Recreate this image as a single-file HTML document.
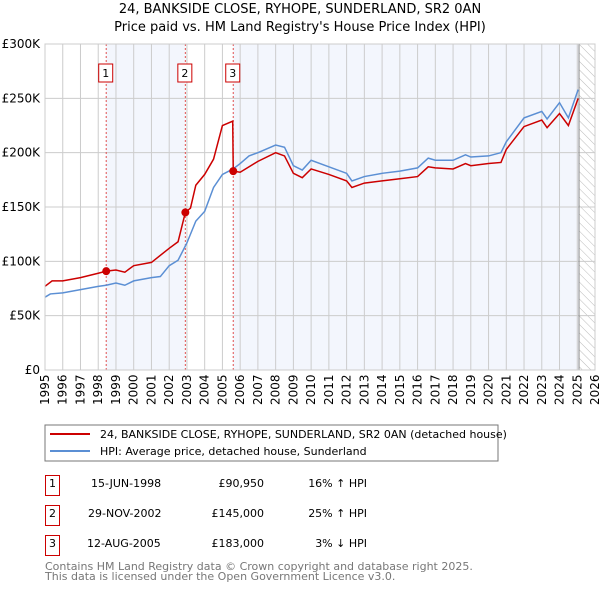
<!DOCTYPE html>
<html><head><meta charset="utf-8"><style>
body{margin:0;background:#fff;font-family:"DejaVu Sans","Liberation Sans",sans-serif;}
svg text{font-family:"DejaVu Sans","Liberation Sans",sans-serif;}
</style></head><body>
<svg id="chart" width="600" height="590" xmlns="http://www.w3.org/2000/svg">
<defs><pattern id="hatch" width="6" height="6" patternUnits="userSpaceOnUse" patternTransform="rotate(-45)"><line x1="0" y1="0" x2="0" y2="6" stroke="#bbb" stroke-width="1"/></pattern></defs>
<text x="300" y="13" text-anchor="middle" font-size="13">24, BANKSIDE CLOSE, RYHOPE, SUNDERLAND, SR2 0AN</text>
<text x="300" y="31" text-anchor="middle" font-size="13">Price paid vs. HM Land Registry's House Price Index (HPI)</text>
<g id="plot"></g>
<rect x="45" y="425" width="453" height="36" fill="#fff" stroke="#777"/>
<line x1="50" y1="434" x2="90" y2="434" stroke="#cc0000" stroke-width="2"/>
<text x="100" y="438" font-size="11">24, BANKSIDE CLOSE, RYHOPE, SUNDERLAND, SR2 0AN (detached house)</text>
<line x1="50" y1="451" x2="90" y2="451" stroke="#5b8fd4" stroke-width="2"/>
<text x="100" y="455" font-size="11">HPI: Average price, detached house, Sunderland</text>
<g font-size="11">
<rect x="45.5" y="475.5" width="14" height="20" fill="none" stroke="#cc0000"/><text x="52.5" y="487" text-anchor="middle">1</text>
<text x="91" y="487">15-JUN-1998</text><text x="264" y="487" text-anchor="end">£90,950</text><text x="367" y="487" text-anchor="end">16% ↑ HPI</text>
<rect x="45.5" y="505.5" width="14" height="20" fill="none" stroke="#cc0000"/><text x="52.5" y="517" text-anchor="middle">2</text>
<text x="88" y="517">29-NOV-2002</text><text x="264" y="517" text-anchor="end">£145,000</text><text x="367" y="517" text-anchor="end">25% ↑ HPI</text>
<rect x="45.5" y="535.5" width="14" height="20" fill="none" stroke="#cc0000"/><text x="52.5" y="547" text-anchor="middle">3</text>
<text x="87" y="547">12-AUG-2005</text><text x="264" y="547" text-anchor="end">£183,000</text><text x="367" y="547" text-anchor="end">3% ↓ HPI</text>
</g>
<text x="45" y="570" font-size="11" fill="#777">Contains HM Land Registry data © Crown copyright and database right 2025.</text>
<text x="45" y="580" font-size="11" fill="#777">This data is licensed under the Open Government Licence v3.0.</text>
</svg>
<script>
const yTicks=[0,50000,100000,150000,200000,250000,300000];
const yTickLabels=["£0","£50K","£100K","£150K","£200K","£250K","£300K"];
const xYears=[1995,1996,1997,1998,1999,2000,2001,2002,2003,2004,2005,2006,2007,2008,2009,2010,2011,2012,2013,2014,2015,2016,2017,2018,2019,2020,2021,2022,2023,2024,2025,2026];
const saleDates=[1998.45,2002.91,2005.61];
const salePrices=[90950,145000,183000];
const saleLabels=["1","2","3"];
const hpiDates=[1995,1995.3,1996,1997,1998,1998.45,1999,1999.5,2000,2001,2001.5,2002,2002.5,2003,2003.5,2004,2004.5,2005,2005.6,2006,2006.5,2007,2008,2008.5,2009,2009.5,2010,2011,2012,2012.3,2013,2014,2015,2016,2016.6,2017,2018,2018.7,2019,2020,2020.7,2021,2022,2023,2023.3,2024,2024.5,2025.05];
const hpiValues=[67000,70000,71000,74000,77000,78000,80000,78000,82000,85000,86000,96000,101000,117000,137000,146000,168000,180000,185000,190000,197000,200000,207000,205000,188000,184000,193000,187000,181000,174000,178000,181000,183000,186000,195000,193000,193000,198000,196000,197000,200000,210000,232000,238000,231000,246000,232000,258000];
const propDates=[1995,1995.4,1996,1997,1998,1998.45,1999,1999.5,2000,2001,2002,2002.5,2002.91,2003.2,2003.5,2004,2004.5,2005,2005.58,2005.61,2006,2007,2008,2008.5,2009,2009.5,2010,2011,2012,2012.3,2013,2014,2015,2016,2016.6,2017,2018,2018.7,2019,2020,2020.7,2021,2022,2023,2023.3,2024,2024.5,2025.05];
const propValues=[77000,82000,82000,85000,89000,90950,92000,90000,96000,99000,112000,118000,145000,149000,170000,180000,194000,225000,229000,183000,182000,192000,200000,197000,181000,177000,185000,180000,174000,168000,172000,174000,176000,178000,187000,186000,185000,190000,188000,190000,191000,203000,224000,230000,223000,236000,225000,250000];
const X0=45,X1=595,Y0=370,Y1=44;
const xs=v=>X0+(v-1995)/(2026-1995)*(X1-X0);
const ys=v=>Y0-v/300000*(Y0-Y1);
const NS="http://www.w3.org/2000/svg";
const g=document.getElementById('plot');
function mk(t,a){const e=document.createElementNS(NS,t);for(const k in a)e.setAttribute(k,a[k]);g.appendChild(e);return e;}
let e;
e=mk('rect',{x:xs(saleDates[0]),y:Y1,width:xs(saleDates[1])-xs(saleDates[0]),height:Y0-Y1,fill:'#f3f6fd'});


e=mk('rect',{x:xs(saleDates[2]),y:Y1,width:xs(2025.1)-xs(saleDates[2]),height:Y0-Y1,fill:'#f3f6fd'});


e=mk('rect',{x:xs(2025.1),y:Y1,width:X1-xs(2025.1),height:Y0-Y1,fill:'url(#hatch)'});


xYears.forEach(y=>{e=mk('line',{x1:xs(y),x2:xs(y),y1:Y1,y2:Y0,stroke:'#ccc','stroke-width':1});


e=mk('text',{transform:`translate(${xs(y)+4},405) rotate(-90)`,'font-size':12});e.textContent=y;

});
yTicks.forEach((v,i)=>{e=mk('line',{x1:X0,x2:X1,y1:ys(v),y2:ys(v),stroke:'#ccc','stroke-width':1});


e=mk('text',{x:40,y:ys(v)+4,'text-anchor':'end','font-size':12});e.textContent=yTickLabels[i];

});
e=mk('line',{x1:xs(2025.1),x2:xs(2025.1),y1:Y1,y2:Y0,stroke:'#888','stroke-width':1});


saleDates.forEach((d,i)=>{e=mk('line',{x1:xs(d),x2:xs(d),y1:Y1,y2:Y0,stroke:'#e05050','stroke-width':1,'stroke-dasharray':'2,2'});


e=mk('rect',{x:xs(d)-7.5,y:64,width:14,height:18,fill:'#fff',stroke:'#cc0000'});


e=mk('text',{x:xs(d)-0.5,y:77,'text-anchor':'middle','font-size':11});e.textContent=saleLabels[i];

});
e=mk('polyline',{points:hpiDates.map((d,i)=>xs(d)+','+ys(hpiValues[i])).join(' '),fill:'none',stroke:'#5b8fd4','stroke-width':1.5});


e=mk('polyline',{points:propDates.map((d,i)=>xs(d)+','+ys(propValues[i])).join(' '),fill:'none',stroke:'#cc0000','stroke-width':1.5});


saleDates.forEach((d,i)=>{e=mk('circle',{cx:xs(d),cy:ys(salePrices[i]),r:4,fill:'#cc0000'});

});
e=mk('rect',{x:X0,y:Y1,width:X1-X0,height:Y0-Y1,fill:'none',stroke:'#ccc'});


</script>
</body></html>
